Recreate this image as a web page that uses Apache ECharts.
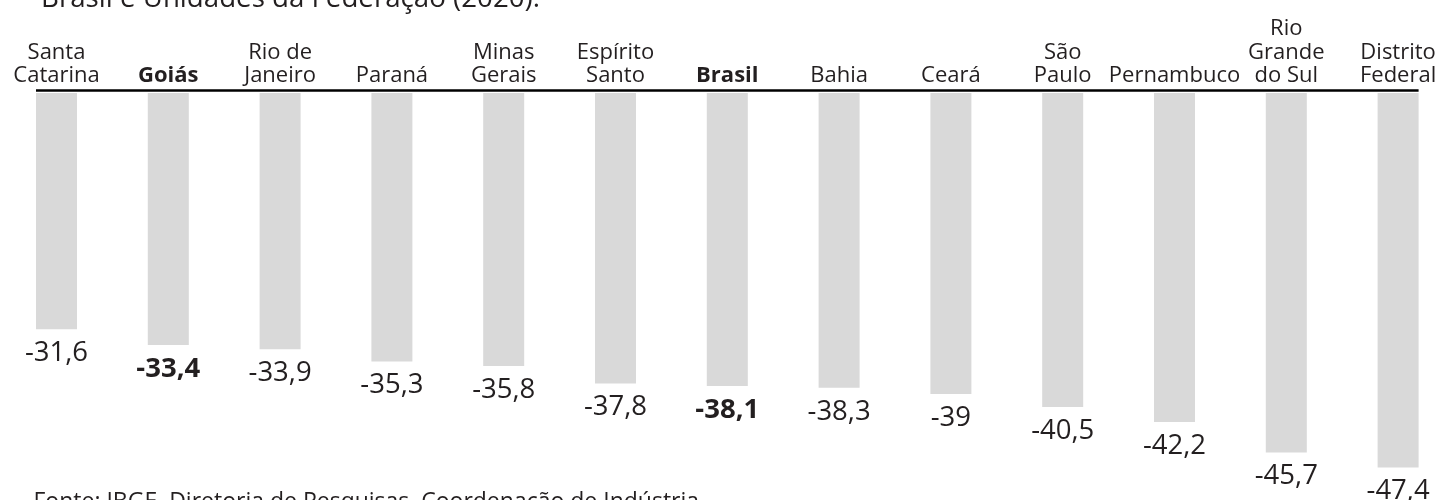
<!DOCTYPE html>
<html>
<head>
<meta charset="utf-8">
<script src="https://cdn.jsdelivr.net/npm/echarts@6/dist/echarts.min.js"></script>
<style>
html,body{margin:0;padding:0;background:#fff;}
#chart{width:1454px;height:500px;}
</style>
</head>
<body>
<div id="chart"></div>
<script>
const categories = ['Santa\nCatarina','Goiás','Rio de\nJaneiro','Paraná','Minas\nGerais','Espírito\nSanto','Brasil','Bahia','Ceará','São\nPaulo','Pernambuco','Rio\nGrande\ndo Sul','Distrito\nFederal'];
const values = [-31.6,-33.4,-33.9,-35.3,-35.8,-37.8,-38.1,-38.3,-39,-40.5,-42.2,-45.7,-47.4];
const highlighted = ['Goiás','Brasil'];
const titleText = 'Brasil e Unidades da Federação (2020).';
const sourceText = 'Fonte: IBGE, Diretoria de Pesquisas, Coordenação de Indústria.';

const FONT = '"Open Sans", "Noto Sans", sans-serif';
const TEXT = '#231f20';
const BAR_W = 41;
const GRID_TOP = 93;

function fmt(v){ return String(v).replace('.', ','); }

const chart = echarts.init(document.getElementById('chart'), null, {renderer:'canvas'});
chart.setOption({
  animation:false,
  backgroundColor:'#fff',
  grid:{left:0.6, right:-12.9, top:GRID_TOP, bottom:9.8, containLabel:false},
  xAxis:{
    type:'category', position:'top', data:categories,
    axisLine:{show:false}, axisTick:{show:false}, splitLine:{show:false},
    axisLabel:{
      interval:0, margin:5.5, color:TEXT, fontFamily:FONT, fontSize:22, lineHeight:23.5,
      formatter:function(v){ return highlighted.indexOf(v) >= 0 ? '{b|' + v + '}' : v; },
      rich:{b:{fontWeight:'bold', fontFamily:FONT, fontSize:22, lineHeight:23.5, color:TEXT}}
    }
  },
  yAxis:{type:'value', min:-50, max:-4.606, show:false, splitLine:{show:false}},
  series:[{
    type:'bar', barWidth:BAR_W, clip:true,
    itemStyle:{color:'#d9d9d9'},
    label:{show:true, position:'bottom', distance:10, color:TEXT, fontFamily:FONT, fontSize:27.5,
      formatter:function(p){ return fmt(p.value); }},
    data:values.map(function(v,i){
      const bold = highlighted.indexOf(categories[i]) >= 0;
      return bold ? {value:v, label:{fontWeight:'bold'}} : {value:v};
    })
  }]
});

const x0 = chart.convertToPixel({xAxisIndex:0}, 0) - BAR_W/2;
const x1 = chart.convertToPixel({xAxisIndex:0}, categories.length-1) + BAR_W/2;
chart.setOption({
  graphic:[
    {type:'line', shape:{x1:x0, y1:GRID_TOP-2.5, x2:x1, y2:GRID_TOP-2.5}, style:{stroke:'#000', lineWidth:2.5}, silent:true},
    {type:'text', x:41, y:-1.2, style:{text:titleText, font:'27.7px ' + FONT, fill:TEXT, textAlign:'left', textVerticalAlign:'middle', align:'left', verticalAlign:'middle'}},
    {type:'text', x:33.5, y:502.5, style:{text:sourceText, font:'23px ' + FONT, fill:TEXT, textAlign:'left', textVerticalAlign:'middle', align:'left', verticalAlign:'middle'}}
  ]
});
</script>
</body>
</html>
